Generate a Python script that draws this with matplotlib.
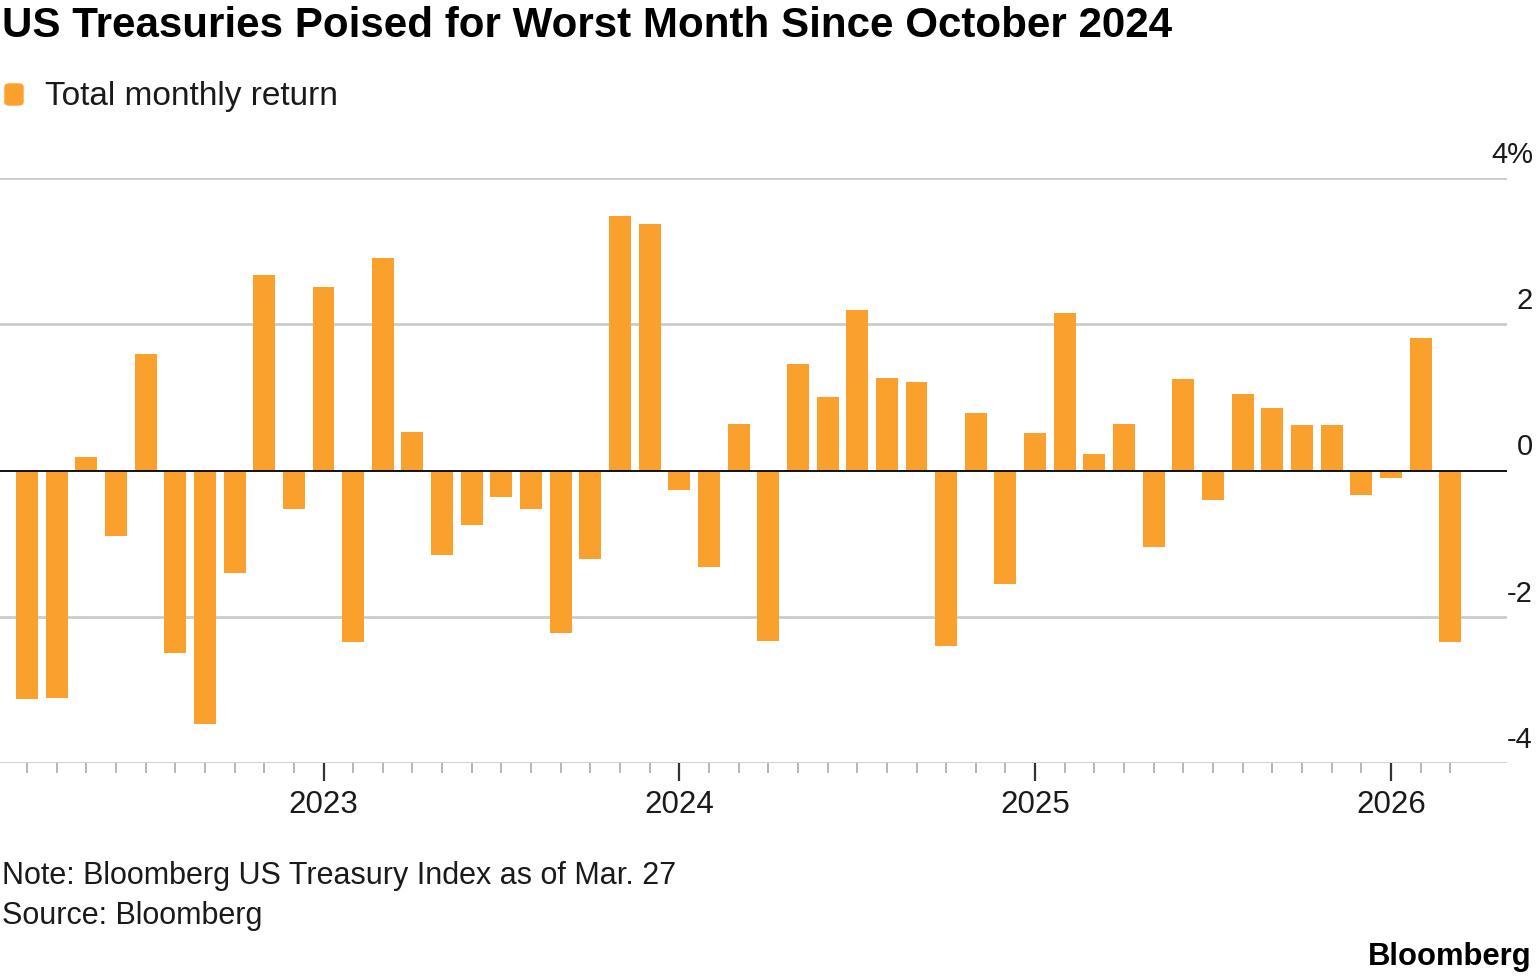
import matplotlib.pyplot as plt
import matplotlib.transforms as mtransforms
from matplotlib.patches import FancyBboxPatch

plt.rcParams['font.family'] = ['Liberation Sans', 'DejaVu Sans']

# monthly total return of the Bloomberg US Treasury Index, Mar 2022 .. Mar 2026
start_year, start_month = 2022, 3
returns = [
    -3.12, -3.11, 0.18, -0.89, 1.59, -2.49, -3.47, -1.40, 2.68, -0.52,   # 2022
    2.51, -2.34, 2.90, 0.52, -1.16, -0.75, -0.36, -0.52, -2.22, -1.21, 3.48, 3.37,  # 2023
    -0.27, -1.32, 0.63, -2.33, 1.45, 1.00, 2.19, 1.27, 1.21, -2.40, 0.78, -1.55,  # 2024
    0.51, 2.15, 0.22, 0.63, -1.04, 1.25, -0.40, 1.05, 0.85, 0.62, 0.62, -0.34,  # 2025
    -0.10, 1.81, -2.34,  # 2026
]
year_labels = ['2023', '2024', '2025', '2026']
y_ticks = [4, 2, 0, -2, -4]
y_tick_labels = ['4%', '2', '0', '-2', '-4']

ORANGE = '#FAA12D'
GRID = '#CCCCCC'

x = list(range(len(returns)))
year_pos = [(int(y) - start_year) * 12 - (start_month - 1) for y in year_labels]

fig = plt.figure(figsize=(15.36, 9.79), dpi=100)
ax = fig.add_axes([0.0, 1 - 764 / 979, 1507 / 1536, (764 - 179) / 979])

ax.bar(x, returns, width=0.74, color=ORANGE, zorder=3)
ax.set_xlim(-27 / 29.65, (1507 - 27) / 29.65)
ax.set_ylim(-4, 4)

for v in y_ticks:
    if v == 0:
        ax.axhline(0, color='black', lw=1.3, zorder=4)
    else:
        ax.axhline(v, color=GRID, lw=2, zorder=1)

# y labels sit above their gridlines, right side
trans = mtransforms.blended_transform_factory(fig.transFigure, ax.transData)
for v, lab in zip(y_ticks, y_tick_labels):
    t = ax.text(1533 / 1536, v, lab, transform=trans, ha='right', va='bottom',
                fontsize=21, color='#1a1a1a')
    t.set_transform(trans + mtransforms.ScaledTranslation(0, 10 / 100, fig.dpi_scale_trans))

for s in ax.spines.values():
    s.set_visible(False)
ax.set_yticks([])

minor = [i for i in x if i not in year_pos]
ax.set_xticks(year_pos)
ax.set_xticklabels(year_labels, fontsize=22.5, color='#1a1a1a')
ax.set_xticks(minor, minor=True)
ax.tick_params(axis='x', which='major', length=13, width=1.6, color='#333333', pad=6)
ax.tick_params(axis='x', which='minor', length=7, width=1.2, color='#AAAAAA')

fig.text(2 / 1536, 1 - 26 / 979, 'US Treasuries Poised for Worst Month Since October 2024',
         fontsize=30.3, fontweight='bold', va='center', ha='left', color='black')

fig.patches.append(FancyBboxPatch((5 / 1536, 1 - 106 / 979), 18 / 1536, 21 / 979,
                                  boxstyle='round,pad=0,rounding_size=0.003',
                                  transform=fig.transFigure, color=ORANGE))
fig.text(45 / 1536, 1 - 96 / 979, 'Total monthly return', fontsize=24,
         va='center', ha='left', color='#1a1a1a')

fig.text(2 / 1536, 1 - 876 / 979, 'Note: Bloomberg US Treasury Index as of Mar. 27',
         fontsize=22, va='center', ha='left', color='#1a1a1a')
fig.text(2 / 1536, 1 - 916 / 979, 'Source: Bloomberg',
         fontsize=22, va='center', ha='left', color='#1a1a1a')
fig.text(1532 / 1536, 1 - 957 / 979, 'Bloomberg', fontsize=22.3, fontweight='bold',
         va='center', ha='right', color='black')

fig.savefig('out.png', dpi=100, facecolor='white')
